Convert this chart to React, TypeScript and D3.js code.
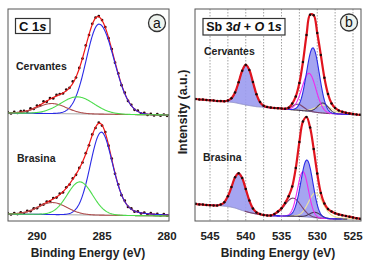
import * as d3 from "d3";

type Peak = { center: number; height: number; hwhmHigh: number; hwhmLow: number; tail: number };

// C 1s spectra, 0.25 eV steps from 292.25 down to 280.00 eV (counts, a.u.)
const c1sEnergy = d3.range(50).map((i) => 292.25 - i * 0.25);
const cervantesC1s = [
  108.9, 107.6, 109.1, 108.0, 109.8, 110.1, 109.3, 112.6, 112.0, 115.5,
  115.6, 119.6, 119.2, 123.0, 122.6, 126.1, 126.9, 127.5, 131.4, 133.2,
  139.6, 143.5, 153.1, 162.4, 175.6, 186.0, 197.2, 203.3, 204.9, 200.9,
  193.9, 182.8, 171.9, 158.3, 147.6, 135.8, 128.3, 120.1, 116.2, 111.2,
  110.3, 107.5, 108.2, 106.0, 107.1, 105.5, 106.8, 105.3, 106.5, 105.2,
];
const brasinaC1s = [
  7.8, 6.5, 8.0, 6.9, 8.7, 8.0, 10.2, 9.8, 12.7, 12.8,
  16.1, 16.4, 19.5, 19.7, 23.0, 23.4, 27.3, 28.6, 33.7, 36.5,
  42.6, 46.2, 53.1, 58.5, 67.8, 75.7, 86.6, 93.0, 98.3, 95.4,
  88.9, 75.3, 62.4, 47.2, 36.6, 25.8, 20.3, 14.1, 12.6, 9.3,
  9.7, 7.5, 8.4, 6.6, 7.8, 6.1, 7.2, 5.6, 6.9, 5.4,
];

// Sb 3d + O 1s spectra, 0.5 eV steps from 547.0 down to 524.0 eV
const sbEnergy = d3.range(47).map((i) => 547 - i * 0.5);
const cervantesSb = [
  122.0, 121.5, 121.4, 121.0, 120.7, 120.5, 120.0, 119.9, 119.7, 120.5,
  122.7, 128.5, 138.7, 150.2, 156.1, 151.0, 139.0, 126.7, 118.9, 115.2,
  114.0, 113.4, 113.0, 112.8, 112.5, 112.3, 113.3, 117.4, 124.6, 137.9,
  159.1, 186.0, 206.3, 205.8, 188.0, 166.0, 143.2, 127.0, 117.6, 113.0,
  110.6, 109.2, 108.3, 107.6, 107.0, 106.5, 106.2,
];
const brasinaSb = [
  17.2, 16.6, 16.4, 16.0, 15.8, 15.6, 15.5, 16.4, 18.8, 24.7,
  33.9, 43.7, 47.7, 42.9, 31.9, 20.5, 12.6, 8.6, 6.9, 6.0,
  5.5, 5.6, 6.9, 9.5, 12.8, 18.0, 24.8, 34.5, 53.0, 79.0,
  99.5, 104.0, 93.5, 72.0, 47.5, 28.0, 17.5, 12.0, 9.5, 7.8,
  6.6, 5.8, 5.0, 4.3, 3.6, 2.8, 2.2,
];

// backgrounds (knots in eV / counts)
const c1sBgEnergy = [292.23, 279.85];
const cervantesC1sBg = [108, 106];
const brasinaC1sBg = [7, 5];
const cervantesSbBgEnergy = [547.1, 543, 541.5, 540, 538.5, 537, 535, 534, 533, 531.5, 530, 528.5, 527, 523.88];
const cervantesSbBg = [121.8, 119.6, 118.3, 116, 114.3, 113.5, 112.5, 111.5, 111, 110, 108.5, 107.5, 107, 106];
const brasinaSbBgEnergy = [547.1, 544, 542.5, 541.5, 540.5, 539.5, 538.5, 537, 535, 533, 531.5, 530, 528, 523.88];
const brasinaSbBg = [17, 15.5, 14.5, 13, 10.5, 8.5, 7, 5.5, 5, 4.8, 4, 3, 2.2, 1.5];

// fitted components, in drawing order
const cervantesC1sPeaks: Peak[] = [
  { center: 285.23, height: 90, hwhmHigh: 1.15, hwhmLow: 1.36, tail: 0 },
  { center: 288.85, height: 10, hwhmHigh: 1.3, hwhmLow: 1.3, tail: 0 },
  { center: 286.9, height: 17, hwhmHigh: 1.5, hwhmLow: 1.5, tail: 0 },
];
const brasinaC1sPeaks: Peak[] = [
  { center: 285.05, height: 83, hwhmHigh: 1.0, hwhmLow: 1.05, tail: 0.3 },
  { center: 288.8, height: 12, hwhmHigh: 1.3, hwhmLow: 1.3, tail: 0 },
  { center: 286.7, height: 33, hwhmHigh: 1.15, hwhmLow: 1.15, tail: 0 },
];
const c1sColors = ["#2a2ae6", "#b05050", "#4cdc4c"];

const cervantesSbPeaks: Peak[] = [
  { center: 529.1, height: 8, hwhmHigh: 1.3, hwhmLow: 1.3, tail: 0.4 },
  { center: 532.7, height: 6, hwhmHigh: 0.9, hwhmLow: 0.9, tail: 0 },
  { center: 529.2, height: 10, hwhmHigh: 0.9, hwhmLow: 0.9, tail: 0 },
  { center: 531.15, height: 38, hwhmHigh: 1.15, hwhmLow: 1.15, tail: 0 },
  { center: 539.95, height: 40, hwhmHigh: 1.1, hwhmLow: 1.1, tail: 0 },
  { center: 530.6, height: 64, hwhmHigh: 1.05, hwhmLow: 1.05, tail: 0 },
];
const brasinaSbPeaks: Peak[] = [
  { center: 530.2, height: 25, hwhmHigh: 1.2, hwhmLow: 1.2, tail: 0.4 },
  { center: 533.4, height: 18, hwhmHigh: 1.35, hwhmLow: 1.35, tail: 0 },
  { center: 530.3, height: 5.5, hwhmHigh: 0.9, hwhmLow: 0.9, tail: 0 },
  { center: 532.0, height: 45, hwhmHigh: 0.9, hwhmLow: 0.9, tail: 0 },
  { center: 540.95, height: 36, hwhmHigh: 1.15, hwhmLow: 1.15, tail: 0 },
  { center: 531.45, height: 57, hwhmHigh: 1.0, hwhmLow: 1.0, tail: 0 },
];
const sbColors = ["#eee596", "#7a4470", "#4a3a58", "#ee2aee", "#2a2ae6", "#2a2ae6"];
const sbFilled = [false, false, false, false, true, true];

const c1sTicks = [290, 285, 280];
const sbTicks = [545, 540, 535, 530, 525];
const sbGrid = [545, 542.5, 540, 537.5, 535, 532.5, 530, 527.5, 525];

const width = 371;
const height = 268;
const top = 9;
const bottom = 221;
const font = "'Liberation Sans', Arial, sans-serif";

const y = d3.scaleLinear().domain([0, 212]).range([bottom, top]);
const xC1s = d3.scaleLinear().domain([292.23, 279.85]).range([8, 169]);
const xSb = d3.scaleLinear().domain([547.1, 523.88]).range([195, 361]);

function lineshape(e: number, p: Peak) {
  const d = e - p.center;
  const u = d / (d >= 0 ? p.hwhmHigh : p.hwhmLow);
  const g = Math.exp(-Math.LN2 * u * u);
  const l = 1 / (1 + u * u);
  const m = d < 0 ? p.tail : 0;
  return p.height * ((1 - m) * g + m * l);
}

function fineGrid(a: number, b: number, step = 0.05) {
  const n = Math.round(Math.abs(a - b) / step);
  return d3.range(n + 1).map((i) => a + ((b - a) * i) / n);
}

function C1sSpectrum({ counts, bg, peaks }: { counts: number[]; bg: number[]; peaks: Peak[] }) {
  const base = d3.scaleLinear().domain(c1sBgEnergy).range(bg);
  const [e0, e1] = xC1s.domain();
  const grid = fineGrid(e0, e1);
  const line = d3
    .line<[number, number]>()
    .x((d) => xC1s(d[0]))
    .y((d) => y(d[1]));
  const fit = grid.map((e) => [e, base(e) + d3.sum(peaks, (p) => lineshape(e, p))] as [number, number]);

  return (
    <g>
      <path d={line(grid.map((e) => [e, base(e)]))!} fill="none" stroke="#9a9a9a" strokeWidth={1} />
      {counts.map((c, i) => (
        <circle key={i} cx={xC1s(c1sEnergy[i])} cy={y(c)} r={1.35} fill="#2a0b0b" />
      ))}
      <path d={line(fit)!} fill="none" stroke="#ee1515" strokeWidth={1.2} />
      {peaks.map((p, k) => (
        <path
          key={k}
          d={line(grid.map((e) => [e, base(e) + lineshape(e, p)]))!}
          fill="none"
          stroke={c1sColors[k]}
          strokeWidth={1.1}
        />
      ))}
    </g>
  );
}

function SbSpectrum({
  counts,
  bgEnergy,
  bg,
  peaks,
}: {
  counts: number[];
  bgEnergy: number[];
  bg: number[];
  peaks: Peak[];
}) {
  const base = d3.scaleLinear().domain(bgEnergy).range(bg);
  const line = d3
    .line<[number, number]>()
    .x((d) => xSb(d[0]))
    .y((d) => y(d[1]));
  const area = d3
    .area<number>()
    .x((e) => xSb(e))
    .y0((e) => y(base(e)));
  const [e0, e1] = xSb.domain();
  const span = (p: Peak) =>
    fineGrid(Math.min(e0, p.center + 5 * p.hwhmHigh), Math.max(e1, p.center - 5 * p.hwhmLow));
  const dataLine = d3
    .line<number>()
    .curve(d3.curveCatmullRom)
    .x((_, i) => xSb(sbEnergy[i]))
    .y((c) => y(c));

  return (
    <g>
      {peaks.map((p, k) =>
        sbFilled[k] ? (
          <path
            key={k}
            d={area.y1((e) => y(base(e) + lineshape(e, p)))(span(p))!}
            fill="#9b9bf0"
            fillOpacity={0.9}
          />
        ) : null
      )}
      <path d={line(fineGrid(e0, e1).map((e) => [e, base(e)]))!} fill="none" stroke="#8f8fc8" strokeWidth={1} />
      {peaks.map((p, k) => (
        <path
          key={k}
          d={line(span(p).map((e) => [e, base(e) + lineshape(e, p)]))!}
          fill="none"
          stroke={sbColors[k]}
          strokeWidth={1.1}
        />
      ))}
      <path d={dataLine(counts)!} fill="none" stroke="#e0141e" strokeWidth={2.2} />
      {counts.map((c, i) => (
        <circle key={i} cx={xSb(sbEnergy[i])} cy={y(c)} r={1.25} fill="#1c0808" />
      ))}
    </g>
  );
}

function CircleTag({ cx, cy, label }: { cx: number; cy: number; label: string }) {
  return (
    <g>
      <circle cx={cx} cy={cy} r={8.5} fill="#eef3ee" stroke="#333" strokeWidth={1.3} />
      <text x={cx} y={cy + 4.5} textAnchor="middle" fontSize={14} fill="#111">
        {label}
      </text>
    </g>
  );
}

export default function App() {
  return (
    <svg
      width={width}
      height={height}
      viewBox={`0 0 ${width} ${height}`}
      style={{ position: "absolute", left: 0, top: 0, background: "#fff" }}
      fontFamily={font}
    >
      <defs>
        <clipPath id="clipA">
          <rect x={8} y={top} width={161} height={bottom - top} />
        </clipPath>
        <clipPath id="clipB">
          <rect x={195} y={top} width={166} height={bottom - top} />
        </clipPath>
      </defs>

      {/* C 1s panel */}
      <g clipPath="url(#clipA)">
        <C1sSpectrum counts={cervantesC1s} bg={cervantesC1sBg} peaks={cervantesC1sPeaks} />
        <C1sSpectrum counts={brasinaC1s} bg={brasinaC1sBg} peaks={brasinaC1sPeaks} />
      </g>
      <rect x={8} y={top} width={161} height={bottom - top} fill="none" stroke="#555" strokeWidth={1} />
      {c1sTicks.map((t) => (
        <text key={t} x={xC1s(t)} y={240} textAnchor="middle" fontSize={11.5} fontWeight="bold" fill="#222">
          {t}
        </text>
      ))}
      <text x={88} y={257} textAnchor="middle" fontSize={12} fontWeight="bold" fill="#222">
        Binding Energy (eV)
      </text>
      <rect x={15.5} y={18.5} width={34.5} height={15} fill="#fff" stroke="#333" strokeWidth={1.2} />
      <text x={32.8} y={30.5} textAnchor="middle" fontSize={13} fontWeight="bold" fill="#111">
        C 1<tspan fontStyle="italic">s</tspan>
      </text>
      <CircleTag cx={157} cy={23} label="a" />
      <text x={16} y={70} fontSize={10.5} fontWeight="bold" fill="#222">
        Cervantes
      </text>
      <text x={17} y={162} fontSize={10.5} fontWeight="bold" fill="#222">
        Brasina
      </text>

      {/* Sb 3d + O 1s panel */}
      <g clipPath="url(#clipB)">
        {sbGrid.map((g) => (
          <line
            key={g}
            x1={xSb(g)}
            x2={xSb(g)}
            y1={top}
            y2={bottom}
            stroke="#8a8a8a"
            strokeWidth={0.8}
            strokeDasharray="1.5 1.5"
          />
        ))}
        <SbSpectrum counts={cervantesSb} bgEnergy={cervantesSbBgEnergy} bg={cervantesSbBg} peaks={cervantesSbPeaks} />
        <SbSpectrum counts={brasinaSb} bgEnergy={brasinaSbBgEnergy} bg={brasinaSbBg} peaks={brasinaSbPeaks} />
      </g>
      <rect x={195} y={top} width={166} height={bottom - top} fill="none" stroke="#555" strokeWidth={1} />
      {sbTicks.map((t) => (
        <text key={t} x={xSb(t)} y={240} textAnchor="middle" fontSize={11.5} fontWeight="bold" fill="#222">
          {t}
        </text>
      ))}
      <text x={278} y={257} textAnchor="middle" fontSize={12} fontWeight="bold" fill="#222">
        Binding Energy (eV)
      </text>
      <rect x={203} y={18.5} width={82} height={16.5} fill="#fff" stroke="#333" strokeWidth={1.2} />
      <text x={244} y={31.2} textAnchor="middle" fontSize={12.5} fontWeight="bold" fill="#111">
        Sb 3<tspan fontStyle="italic">d</tspan> + <tspan fontStyle="italic">O</tspan> 1
        <tspan fontStyle="italic">s</tspan>
      </text>
      <CircleTag cx={349} cy={22.5} label="b" />
      <text x={204} y={55} fontSize={10.5} fontWeight="bold" fill="#222">
        Cervantes
      </text>
      <text x={203} y={161} fontSize={10.5} fontWeight="bold" fill="#222">
        Brasina
      </text>

      <text
        transform="translate(184,112) rotate(-90)"
        textAnchor="middle"
        dominantBaseline="middle"
        fontSize={12.5}
        fontWeight="bold"
        fill="#222"
      >
        Intensity (a.u.)
      </text>
    </svg>
  );
}
